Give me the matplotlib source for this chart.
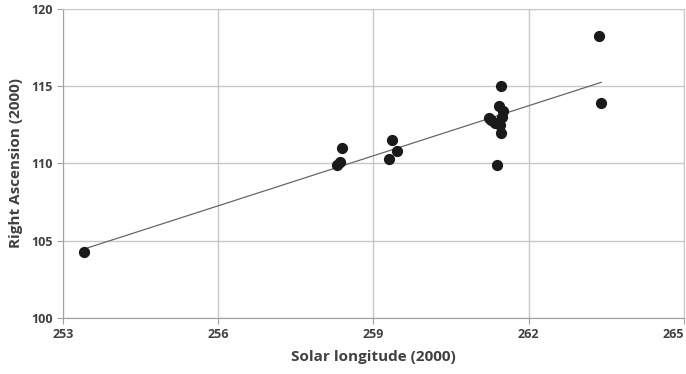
import numpy as np
import matplotlib.pyplot as plt

solar_lon = [253.4, 258.3, 258.35, 258.4, 259.3, 259.35, 259.45,
             261.24, 261.28, 261.34, 261.38, 261.42, 261.44, 261.46,
             261.46, 261.48, 261.5, 263.35, 263.4]
right_asc = [104.3, 109.9, 110.1, 111.0, 110.3, 111.5, 110.8,
             112.95, 112.8, 112.6, 109.9, 113.7, 112.5, 115.0,
             112.0, 113.0, 113.4, 118.25, 113.9]

xticks = [253, 256, 259, 262, 265]
yticks = [100, 105, 110, 115, 120]

plt.rcParams['font.family'] = ['Open Sans', 'DejaVu Sans']

fig = plt.figure(figsize=(6.86, 3.74), dpi=100)
ax = fig.add_axes([0.0918, 0.1497, 0.9052, 0.8263])

x = np.array(solar_lon)
y = np.array(right_asc)
k, b = np.polyfit(x, y, 1)
xl = np.array([x.min(), x.max()])
ax.plot(xl, k * xl + b, color='#666666', lw=0.9, zorder=2)

ax.scatter(x, y, s=50, color='#1a1a1a', edgecolors='#1a1a1a', zorder=3)

ax.set_xlim(253, 265)
ax.set_ylim(100, 120)
ax.set_xticks(xticks)
ax.set_yticks(yticks)
ax.grid(True, color='#c8c8c8', lw=1.0)
ax.set_axisbelow(True)
for s in ax.spines.values():
    s.set_color('#c8c8c8')
ax.spines['left'].set_color('#a0a0a0')
ax.spines['bottom'].set_color('#a0a0a0')
ax.tick_params(axis='both', colors='#a0a0a0', labelcolor='#404040',
               labelsize=9, length=4)
for lab in ax.get_xticklabels() + ax.get_yticklabels():
    lab.set_fontweight('bold')
# last label would run off the right edge
ax.get_xticklabels()[-1].set_horizontalalignment('right')

ax.set_xlabel('Solar longitude (2000)', fontsize=11, fontweight='bold',
              color='#404040', labelpad=6)
ax.set_ylabel('Right Ascension (2000)', fontsize=11, fontweight='bold',
              color='#404040', labelpad=6)

fig.savefig('out.png', dpi=100)
